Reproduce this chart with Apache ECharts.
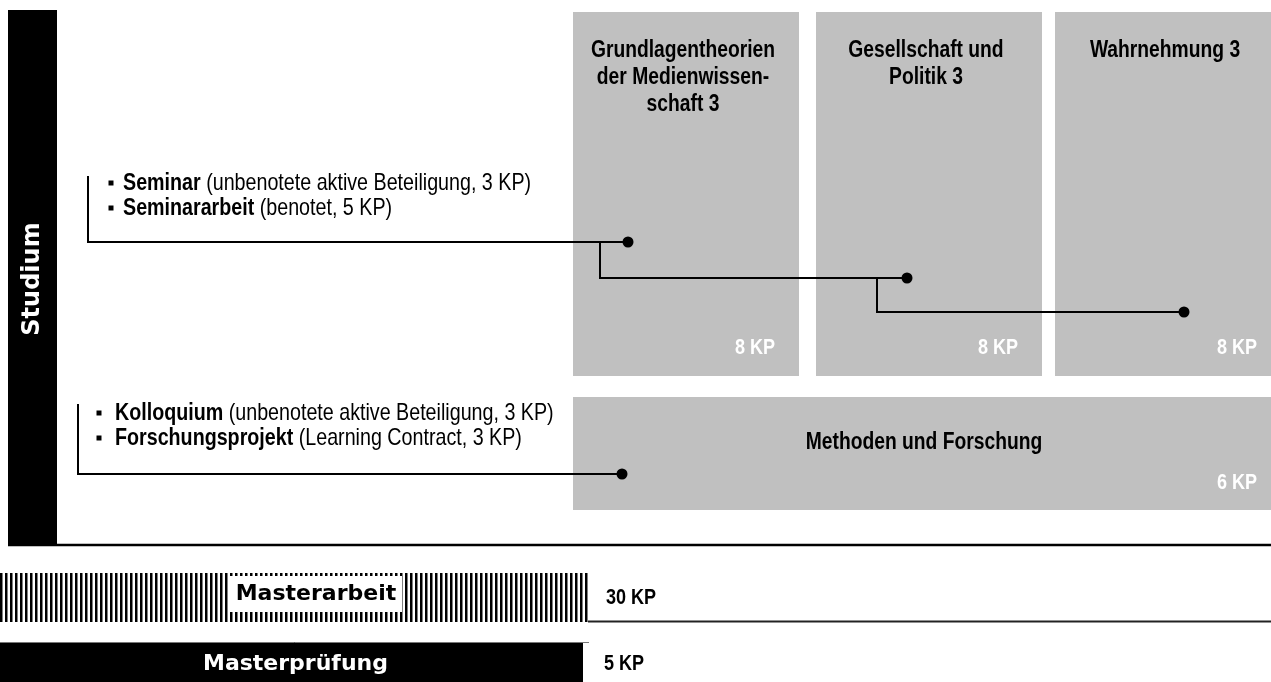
<!DOCTYPE html>
<html><head><meta charset="utf-8">
<script src="https://cdn.jsdelivr.net/npm/echarts@6/dist/echarts.min.js"></script>
<style>html,body{margin:0;padding:0;background:#fff}#c{width:1271px;height:682px}</style>
</head><body><div id="c"></div>
<script>
// ---------------- data ----------------
const sectionLabel = 'Studium';
const moduleNames = ['Grundlagentheorien\nder Medienwissen-\nschaft 3', 'Gesellschaft und\nPolitik 3', 'Wahrnehmung 3', 'Methoden und Forschung'];
const moduleKP = [8, 8, 8, 6];
const seminarCourses = ['Seminar', 'Seminararbeit'];
const seminarDetails = ['(unbenotete aktive Beteiligung, 3 KP)', '(benotet, 5 KP)'];
const seminarTargets = [0, 1, 2];
const kolloqCourses = ['Kolloquium', 'Forschungsprojekt'];
const kolloqDetails = ['(unbenotete aktive Beteiligung, 3 KP)', '(Learning Contract, 3 KP)'];
const kolloqTargets = [3];
const finalNames = ['Masterarbeit', 'Masterprüfung'];
const finalKP = [30, 5];
const kpUnit = 'KP';

// ---------------- layout (pixel units of the hidden axes) ----------------
const L = {
  W: 1271, H: 682,
  bar: [8, 10, 57, 545],
  barTextY: 279,
  divider: { y: 545, x0: 8, x1: 1271 },
  boxes: [[573, 12, 799, 376], [816, 12, 1042, 376], [1055, 12, 1281, 376], [573, 397, 1281, 510]],
  titleCenterY: [51, 51, 51, 443],
  titleLH: 27,
  kpY: [348, 348, 348, 483],
  kpRight: 24,
  groups: [
    { bracketX: 88, top: 176, lineY: [183, 208], bulletX: 111, textX: 123, joinY: 242,
      dots: [[628, 242], [907, 278], [1184, 312]], branchX: [600, 877] },
    { bracketX: 78, top: 404, lineY: [413, 438], bulletX: 99, textX: 115, joinY: 474,
      dots: [[622, 474]], branchX: [] }
  ],
  stripes: { x0: 0, x1: 588, y0: 573, y1: 622, period: 5, w: 2.5 },
  label: { x0: 230, x1: 402, y0: 576, y1: 612 },
  examBox: [0, 642, 583, 682],
  examLine: { y: 642.5, x1: 589 },
  kpText: { x: [606, 604], y: [598, 664] },
  underline: { y: 621.5, x0: 588, x1: 1271 }
};

// ---------------- fonts ----------------
function hasFont(name) {
  const c = document.createElement('canvas').getContext('2d');
  const t = 'Grundlagentheorien Wahrnehmung 123';
  c.font = 'bold 20px monospace'; const a = c.measureText(t).width;
  c.font = 'bold 20px "' + name + '", monospace'; const b = c.measureText(t).width;
  return Math.abs(a - b) > 1;
}
const NARROW = hasFont('Liberation Sans Narrow');
const FONT_N = NARROW ? '"Liberation Sans Narrow", "Liberation Sans", sans-serif' : '"Liberation Sans", Arial, sans-serif';
const SX = NARROW ? 1 : 0.82;
const FONT_H = '"DejaVu Sans", sans-serif';

function P(api, x, y) { return api.coord([x, y]); }
function R(api, x0, y0, x1, y1) {
  const a = P(api, x0, y0), c = P(api, x1, y1);
  return { x: a[0], y: a[1], width: c[0] - a[0], height: c[1] - a[1] };
}
function ntext(api, x, y, text, o) {
  const p = P(api, x, y);
  return { type: 'text', x: p[0], y: p[1], scaleX: SX, scaleY: 1,
    style: Object.assign({ text: text, fontFamily: FONT_N, fill: '#000' }, o) };
}

const chart = echarts.init(document.getElementById('c'), null, { renderer: 'canvas' });

const base = { type: 'custom', coordinateSystem: 'cartesian2d', silent: true, animation: false, clip: false };

const option = {
  backgroundColor: '#fff',
  animation: false,
  grid: { left: 0, right: 0, top: 0, bottom: 0 },
  xAxis: { type: 'value', min: 0, max: L.W, show: false },
  yAxis: { type: 'value', min: 0, max: L.H, inverse: true, show: false },
  series: [
    // Studium section bar
    Object.assign({}, base, {
      name: sectionLabel, data: [[0, 0]],
      renderItem(params, api) {
        const b = L.bar;
        const c = P(api, (b[0] + b[2]) / 2, L.barTextY);
        const d = P(api, L.divider.x0, L.divider.y), e = P(api, L.divider.x1, L.divider.y);
        return { type: 'group', children: [
          { type: 'rect', shape: R(api, b[0], b[1], b[2], b[3]), style: { fill: '#000' } },
          { type: 'line', shape: { x1: d[0], y1: d[1], x2: e[0], y2: e[1] }, style: { stroke: '#000', lineWidth: 2.5 } },
          { type: 'text', x: c[0], y: c[1], rotation: Math.PI / 2,
            style: { text: sectionLabel, fontFamily: FONT_H, fontWeight: 'bold', fontSize: 24,
              fill: '#fff', align: 'center', verticalAlign: 'middle' } }
        ] };
      }
    }),
    // module boxes
    Object.assign({}, base, {
      name: 'Module', data: moduleNames.map((n, i) => [i, moduleKP[i]]),
      renderItem(params, api) {
        const i = params.dataIndex, b = L.boxes[i];
        const cx = (b[0] + b[2]) / 2 - 3;
        return { type: 'group', children: [
          { type: 'rect', shape: R(api, b[0], b[1], b[2], b[3]), style: { fill: '#c0c0c0' } },
          ntext(api, cx, L.titleCenterY[i] - L.titleLH / 2, moduleNames[i],
            { fontWeight: 'bold', fontSize: 23.5, lineHeight: L.titleLH, align: 'center', verticalAlign: 'top' }),
          ntext(api, b[2] - L.kpRight, L.kpY[i], api.value(1) + ' ' + kpUnit,
            { fontWeight: 'bold', fontSize: 22, fill: '#fff', align: 'right', verticalAlign: 'middle' })
        ] };
      }
    }),
    // course lists and connectors
    Object.assign({}, base, {
      name: 'Lehrveranstaltungen', data: [[0, seminarTargets.length], [1, kolloqTargets.length]],
      renderItem(params, api) {
        const g = L.groups[params.dataIndex];
        const names = params.dataIndex === 0 ? seminarCourses : kolloqCourses;
        const details = params.dataIndex === 0 ? seminarDetails : kolloqDetails;
        const ch = [];
        names.forEach((n, k) => {
          const bp = P(api, g.bulletX, g.lineY[k]);
          ch.push({ type: 'rect', shape: { x: bp[0] - 2.5, y: bp[1] - 2.5, width: 5, height: 5 }, style: { fill: '#000' } });
          ch.push(ntext(api, g.textX, g.lineY[k], '{b|' + n + '} ' + details[k],
            { fontSize: 24, align: 'left', verticalAlign: 'middle',
              rich: { b: { fontWeight: 'bold', fontSize: 24, fontFamily: FONT_N, fill: '#000' } } }));
        });
        const pts = [[g.bracketX, g.top], [g.bracketX, g.joinY], g.dots[0]].map(p => P(api, p[0], p[1]));
        ch.push({ type: 'polyline', shape: { points: pts }, style: { stroke: '#000', lineWidth: 2, fill: null } });
        for (let k = 1; k < g.dots.length; k++) {
          const bx = g.branchX[k - 1];
          const pp = [[bx, g.dots[k - 1][1]], [bx, g.dots[k][1]], g.dots[k]].map(p => P(api, p[0], p[1]));
          ch.push({ type: 'polyline', shape: { points: pp }, style: { stroke: '#000', lineWidth: 2, fill: null } });
        }
        g.dots.forEach(d => {
          const p = P(api, d[0], d[1]);
          ch.push({ type: 'circle', shape: { cx: p[0], cy: p[1], r: 5.5 }, style: { fill: '#000' } });
        });
        return { type: 'group', children: ch };
      }
    }),
    // Masterarbeit / Masterprüfung
    Object.assign({}, base, {
      name: 'Abschluss', data: finalNames.map((n, i) => [i, finalKP[i]]),
      renderItem(params, api) {
        const i = params.dataIndex;
        const ch = [];
        if (i === 0) {
          const s = L.stripes;
          for (let x = s.x0; x + s.w <= s.x1 + 0.01; x += s.period) {
            ch.push({ type: 'rect', shape: R(api, x, s.y0, x + s.w, s.y1), style: { fill: '#000' } });
          }
          const lb = L.label;
          ch.push({ type: 'rect', shape: R(api, lb.x0, lb.y0, lb.x1, lb.y1), style: { fill: '#fff' } });
          const c = P(api, (lb.x0 + lb.x1) / 2, (lb.y0 + lb.y1) / 2);
          ch.push({ type: 'text', x: c[0], y: c[1], style: { text: finalNames[0], fontFamily: FONT_H, fontWeight: 'bold',
            fontSize: 22, fill: '#000', align: 'center', verticalAlign: 'middle' } });
          const u0 = P(api, L.underline.x0, L.underline.y), u1 = P(api, L.underline.x1, L.underline.y);
          ch.push({ type: 'line', shape: { x1: u0[0], y1: u0[1], x2: u1[0], y2: u1[1] }, style: { stroke: '#222', lineWidth: 2 } });
        } else {
          const e = L.examBox;
          ch.push({ type: 'rect', shape: R(api, e[0], e[1], e[2], e[3]), style: { fill: '#000' } });
          const l0 = P(api, 0, L.examLine.y), l1 = P(api, L.examLine.x1, L.examLine.y);
          ch.push({ type: 'line', shape: { x1: l0[0], y1: l0[1], x2: l1[0], y2: l1[1] }, style: { stroke: '#777', lineWidth: 1 } });
          const c = P(api, (e[0] + e[2]) / 2 + 4, L.kpText.y[1]);
          ch.push({ type: 'text', x: c[0], y: c[1], style: { text: finalNames[1], fontFamily: FONT_H, fontWeight: 'bold',
            fontSize: 22, fill: '#fff', align: 'center', verticalAlign: 'middle' } });
        }
        ch.push(ntext(api, L.kpText.x[i], L.kpText.y[i], api.value(1) + ' ' + kpUnit,
          { fontWeight: 'bold', fontSize: 22, align: 'left', verticalAlign: 'middle' }));
        return { type: 'group', children: ch };
      }
    })
  ]
};
chart.setOption(option);
</script>
</body></html>
